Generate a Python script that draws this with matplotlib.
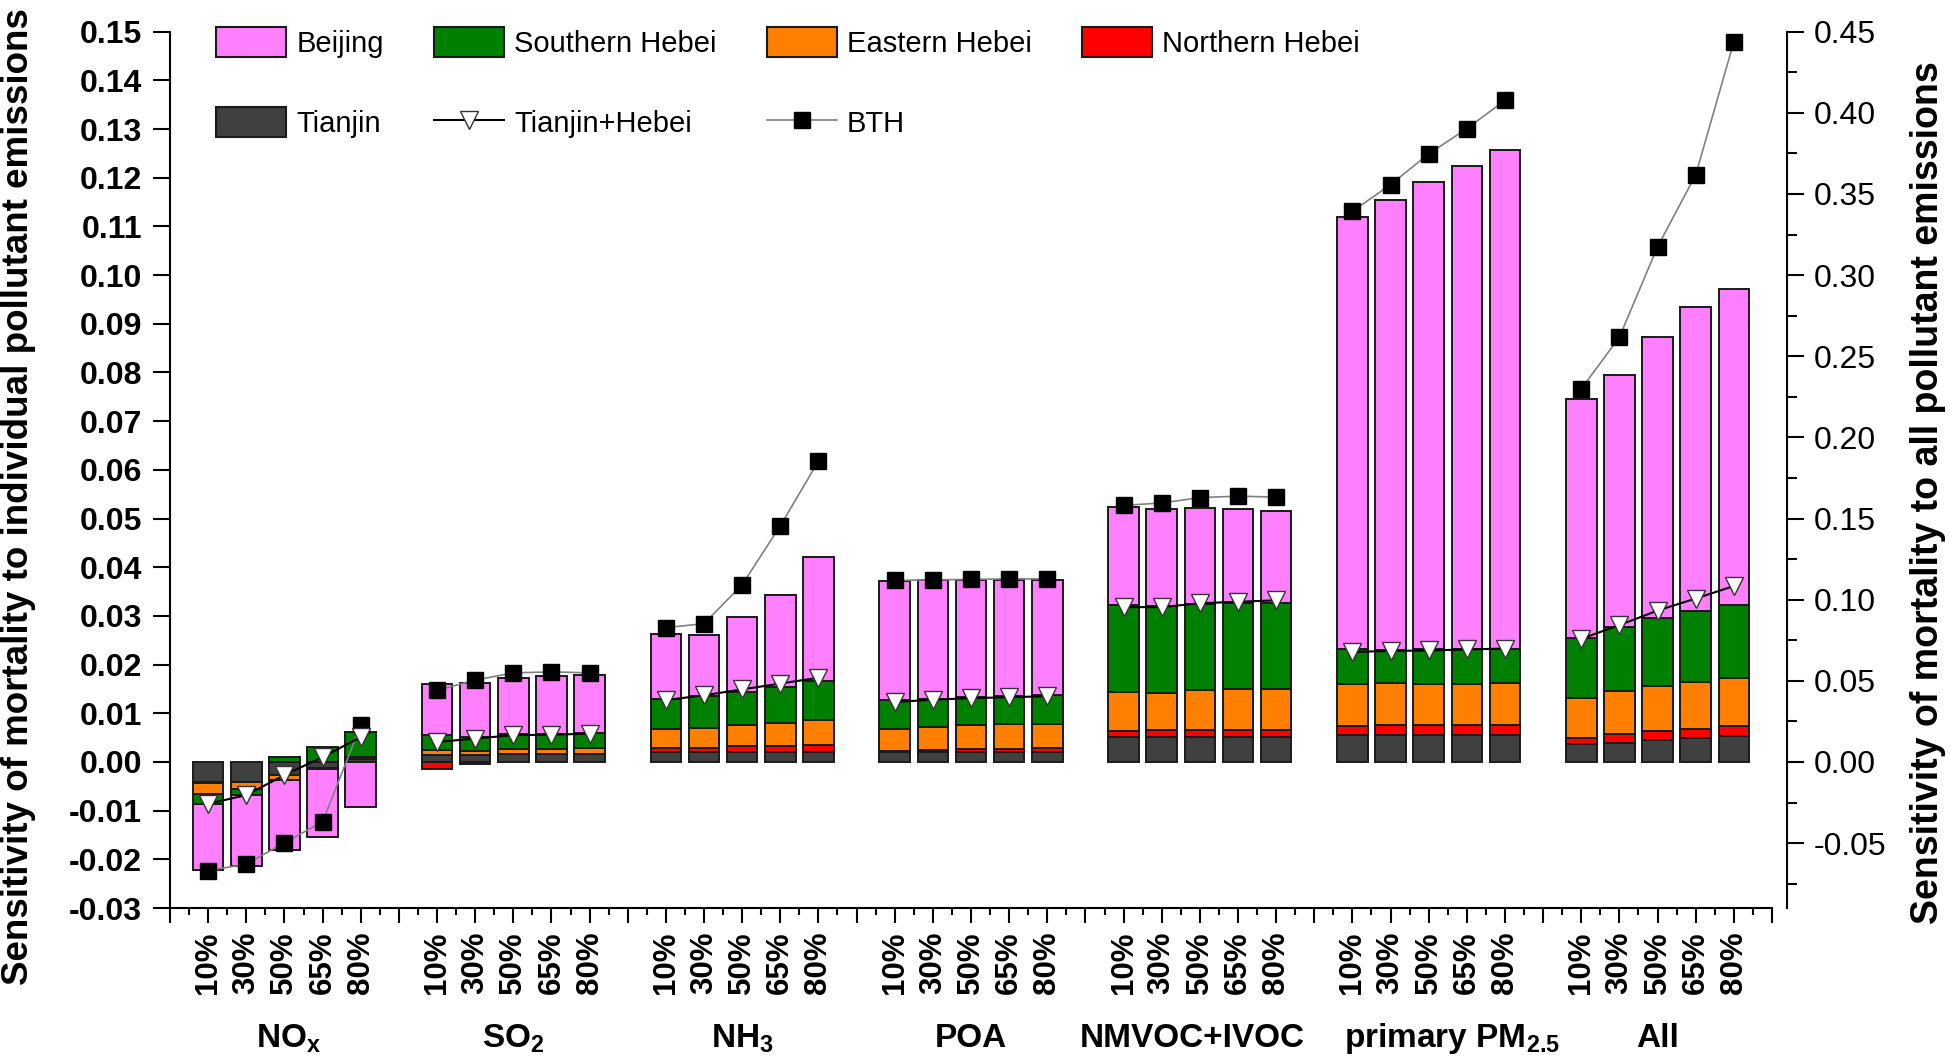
import numpy as np
import matplotlib.pyplot as plt
from matplotlib.patches import Patch
from matplotlib.lines import Line2D

plt.rcParams['font.family'] = ['Liberation Sans', 'DejaVu Sans']
plt.rcParams['mathtext.fontset'] = 'custom'
plt.rcParams['mathtext.rm'] = 'Liberation Sans'
plt.rcParams['mathtext.bf'] = 'Liberation Sans:bold'

# Categories
groups = ['NO$_\\mathbf{x}$', 'SO$_\\mathbf{2}$', 'NH$_\\mathbf{3}$', 'POA',
          'NMVOC+IVOC', 'primary PM$_\\mathbf{2.5}$', 'All']
levels = ['10%', '30%', '50%', '65%', '80%']

# Contributions by region, one row per pollutant group
# (the "All" row is read on the right axis)
tianjin = [
    [-0.0041, -0.0041, -0.0027, -0.0012, 0.0007],
    [0.0014, 0.0014, 0.0017, 0.0017, 0.0017],
    [0.0021, 0.0021, 0.0021, 0.0021, 0.0021],
    [0.0021, 0.0021, 0.0021, 0.0021, 0.0021],
    [0.0051, 0.0051, 0.0051, 0.0051, 0.0051],
    [0.0055, 0.0055, 0.0055, 0.0055, 0.0055],
    [0.0108, 0.0116, 0.0133, 0.0145, 0.0157],
]
northern = [
    [-0.0002, -0.0001, 0.0, 0.0, 0.0],
    [-0.0014, -0.0004, 0.0, 0.0, 0.0],
    [0.0008, 0.0008, 0.0011, 0.0011, 0.0013],
    [0.0001, 0.0004, 0.0006, 0.0006, 0.0007],
    [0.0012, 0.0015, 0.0014, 0.0014, 0.0014],
    [0.0018, 0.0020, 0.0020, 0.0020, 0.0020],
    [0.0037, 0.0057, 0.0060, 0.0060, 0.0067],
]
eastern = [
    [-0.0022, -0.0014, -0.0010, -0.0003, 0.0003],
    [0.0010, 0.0008, 0.0010, 0.0010, 0.0011],
    [0.0038, 0.0041, 0.0043, 0.0047, 0.0052],
    [0.0046, 0.0047, 0.0048, 0.0050, 0.0049],
    [0.0081, 0.0076, 0.0082, 0.0084, 0.0084],
    [0.0088, 0.0087, 0.0086, 0.0086, 0.0087],
    [0.0248, 0.0266, 0.0272, 0.0289, 0.0294],
]
southern = [
    [-0.0021, -0.0012, 0.0010, 0.0031, 0.0052],
    [0.0031, 0.0030, 0.0031, 0.0031, 0.0031],
    [0.0063, 0.0066, 0.0069, 0.0075, 0.0080],
    [0.0059, 0.0058, 0.0058, 0.0058, 0.0060],
    [0.0178, 0.0178, 0.0177, 0.0177, 0.0177],
    [0.0070, 0.0067, 0.0070, 0.0070, 0.0071],
    [0.0373, 0.0392, 0.0419, 0.0434, 0.0451],
]
beijing = [
    [-0.0136, -0.0146, -0.0144, -0.0139, -0.0092],
    [0.0106, 0.0110, 0.0115, 0.0118, 0.0119],
    [0.0132, 0.0124, 0.0154, 0.0188, 0.0255],
    [0.0245, 0.0243, 0.0241, 0.0239, 0.0237],
    [0.0202, 0.0200, 0.0198, 0.0194, 0.0189],
    [0.0889, 0.0926, 0.0961, 0.0993, 0.1023],
    [0.1471, 0.1556, 0.1736, 0.1878, 0.1944],
]
tj_hebei = [
    [-0.0086, -0.0068, -0.0027, 0.0010, 0.0051],
    [0.0041, 0.0048, 0.0055, 0.0056, 0.0058],
    [0.0127, 0.0137, 0.0149, 0.0161, 0.0173],
    [0.0123, 0.0128, 0.0131, 0.0133, 0.0135],
    [0.0318, 0.0318, 0.0326, 0.0329, 0.0332],
    [0.0226, 0.0228, 0.0229, 0.0231, 0.0233],
    [0.0759, 0.0843, 0.0933, 0.1007, 0.1084],
]
bth = [
    [-0.0223, -0.0210, -0.0166, -0.0123, 0.0075],
    [0.0147, 0.0168, 0.0183, 0.0185, 0.0183],
    [0.0276, 0.0284, 0.0364, 0.0485, 0.0618],
    [0.0373, 0.0374, 0.0375, 0.0376, 0.0376],
    [0.0527, 0.0532, 0.0543, 0.0546, 0.0544],
    [0.1131, 0.1186, 0.1249, 0.1301, 0.1359],
    [0.2299, 0.2618, 0.3175, 0.3618, 0.4438],
]

regions = ['Tianjin', 'Northern Hebei', 'Eastern Hebei', 'Southern Hebei', 'Beijing']
colors = ['#404040', '#ff0000', '#ff8000', '#008000', '#ff80ff']
edge = '#1a1a1a'
# small horizontal nudges of the group titles (in bar slots)
label_shift = [0.1, 0, 0, 0, -0.2, 0.6, 0]

W, H = 1950, 1064
fig = plt.figure(figsize=(W / 100, H / 100), dpi=100)
ax = fig.add_axes([170 / W, 1 - 908 / H, 1602 / W, 876.3 / H])
ax2 = ax.twinx()

for g in range(len(groups)):
    xs = g * 6 + np.arange(5)
    a = ax2 if g == 6 else ax
    pos = np.zeros(5)
    neg = np.zeros(5)
    for data, c in zip([tianjin, northern, eastern, southern, beijing], colors):
        v = np.array(data[g])
        bottom = np.where(v >= 0, pos, neg)
        a.bar(xs, v, 0.8, bottom=bottom, color=c, edgecolor=edge, lw=1.4, zorder=2)
        pos = pos + np.clip(v, 0, None)
        neg = neg + np.clip(v, None, 0)
    a.plot(xs, bth[g], color='#808080', lw=1.2, marker='s', ms=11,
           mfc='black', mec='black', zorder=3)
    a.plot(xs, tj_hebei[g], color='black', lw=1.5, marker='v', ms=13,
           mfc='white', mec='#333333', mew=1, zorder=4)
    ax.text(g * 6 + 2 + label_shift[g], -0.1586, groups[g],
            transform=ax.get_xaxis_transform(),
            ha='center', va='baseline', fontsize=24, fontweight='bold')

# axes limits and ticks
ax.set_xlim(-1, 41)
ax.set_ylim(-0.03, 0.15)
ax2.set_ylim(-0.09, 0.45)

xt = np.arange(-1, 42)
xl = [levels[i % 6] if 0 <= i and i % 6 < 5 else '' for i in xt]
ax.set_xticks(xt, labels=xl, rotation=90, fontsize=22.5, fontweight='bold')
ax.set_xticks(np.arange(-0.5, 41, 1), minor=True)

yt = np.round(np.arange(-0.03, 0.1501, 0.01), 2)
ax.set_yticks(yt, labels=['%.2f' % t for t in yt], fontsize=23, fontweight='bold')
rt = np.round(np.arange(-0.05, 0.4501, 0.05), 2)
ax2.set_yticks(rt, labels=['%.2f' % t for t in rt])
ax2.set_yticks(np.arange(-0.075, 0.45, 0.05), minor=True)
ax2.tick_params(axis='y', labelsize=23)
for t in ax2.yaxis.get_major_ticks():
    t.label2.set_fontweight('bold')

ax.tick_params(axis='x', which='major', length=11, width=1.5, pad=6)
ax.tick_params(axis='x', which='minor', length=5, width=1.5)
ax.tick_params(axis='y', which='major', length=12, width=1.5, pad=8)
ax2.tick_params(axis='y', which='major', length=12, width=1.5, pad=7)
ax2.tick_params(axis='y', which='minor', length=7, width=1.5)

for s in ['top', 'right']:
    ax.spines[s].set_visible(False)
for s in ['top', 'left', 'bottom']:
    ax2.spines[s].set_visible(False)
for s in ['left', 'bottom']:
    ax.spines[s].set_linewidth(1.5)
ax2.spines['right'].set_linewidth(1.5)
ax2.spines['right'].set_position(('outward', 11))

# axis titles
fig.text(19 / W, 1 - 497 / H, 'Sensitivity of mortality to individual pollutant emissions',
         rotation=90, ha='center', va='center', fontsize=26.5, fontweight='bold')
fig.text(1928 / W, 1 - 493 / H, 'Sensitivity of mortality to all pollutant emissions',
         rotation=90, ha='center', va='center', fontsize=27, fontweight='bold')

# legend
patch = {r: Patch(facecolor=c, edgecolor=edge, lw=1.5) for r, c in zip(regions, colors)}
h_tj = Line2D([], [], color='black', lw=1.5, marker='v', ms=13, mfc='white', mec='#333333')
h_bth = Line2D([], [], color='#808080', lw=1.2, marker='s', ms=11, mfc='black', mec='black')
handles = [patch['Beijing'], patch['Tianjin'], patch['Southern Hebei'], h_tj,
           patch['Eastern Hebei'], h_bth, patch['Northern Hebei']]
labels = ['Beijing', 'Tianjin', 'Southern Hebei', 'Tianjin+Hebei',
          'Eastern Hebei', 'BTH', 'Northern Hebei']
fig.legend(handles, labels, loc='upper left', bbox_to_anchor=(216 / W, 1 - 27 / H),
           ncol=4, frameon=False, fontsize=21, borderpad=0, borderaxespad=0,
           handlelength=2.4, handleheight=1.2, handletextpad=0.35,
           columnspacing=1.72, labelspacing=1.7)

fig.savefig('out.png', dpi=100)
